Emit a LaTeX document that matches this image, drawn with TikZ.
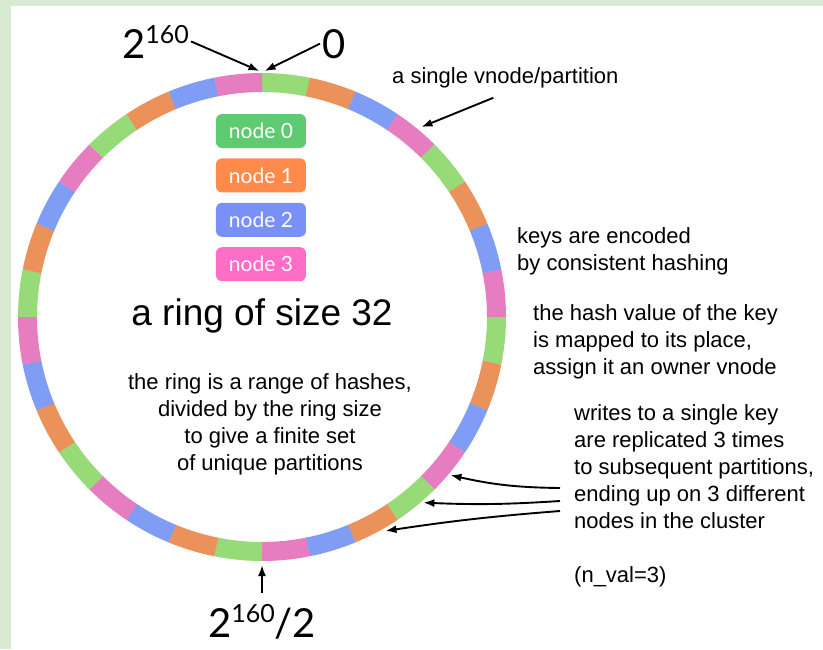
\documentclass[tikz,border=0pt]{standalone}
\usepackage{fontspec}
\setmainfont{Liberation Sans}
\newfontfamily\ringfont{Lato}
\usetikzlibrary{arrows.meta,positioning}
\definecolor{ringgreen}{RGB}{151,218,120}
\definecolor{ringorange}{RGB}{235,145,90}
\definecolor{ringblue}{RGB}{128,157,246}
\definecolor{ringpink}{RGB}{231,125,193}
\definecolor{keygreen}{RGB}{95,203,112}
\definecolor{keyorange}{RGB}{255,138,74}
\definecolor{keyblue}{RGB}{120,144,248}
\definecolor{keypink}{RGB}{255,110,198}
\definecolor{framegreen}{RGB}{217,234,211}

\begin{document}
\begin{tikzpicture}[x=1pt,y=1pt,>={Latex[length=11pt,width=8pt]},
    note/.style={font=\fontsize{22}{27}\selectfont,align=left,inner sep=0pt},
    legend/.style={rounded corners=6pt,minimum width=90pt,minimum height=34pt,inner sep=0pt,text=white,font=\ringfont\fontsize{21}{21}\selectfont},
    hashlabel/.style={font=\ringfont\fontsize{40}{40}\selectfont,inner sep=2pt},
    pointer/.style={->,line width=1.9pt}]
  % frame
  \fill[framegreen] (-262,317) rectangle (561,-332);
  \fill[white] (-251,311) rectangle (561,-332);
  \useasboundingbox (-262,317) rectangle (561,-332);
  % 32 partitions, clockwise from the top
  \foreach \k in {0,...,7}
    \foreach \col [count=\j from 0] in {ringgreen,ringorange,ringblue,ringpink}{
      \pgfmathsetmacro{\a}{90-45*\k-11.25*\j}
      \draw[line width=19pt,\col] (\a:234.5pt) arc[start angle=\a,delta angle=-11.3,radius=234.5pt];
    }
  % legend
  \node[legend,fill=keygreen] (n0) at (-1,186) {node 0};
  \node[legend,fill=keyorange,below=10pt of n0] (n1) {node 1};
  \node[legend,fill=keyblue,below=10pt of n1] (n2) {node 2};
  \node[legend,fill=keypink,below=10pt of n2] (n3) {node 3};
  \node[font=\fontsize{37}{37}\selectfont,anchor=base] (size) at (0,-8) {a ring of size 32};
  % multi-line notes: base = baseline of the last line
  \node[note,align=center,anchor=base] (range) at (8,-153) {the ring is a range of hashes,\\divided by the ring size\\to give a finite set\\of unique partitions};
  % hash space labels
  \node[hashlabel,anchor=base west] (top) at (-142,259) {2\raisebox{15pt}{\fontsize{25}{25}\selectfont 160}};
  \node[hashlabel,anchor=base west] (zero) at (58,259) {0};
  \node[hashlabel,anchor=base west] (half) at (-56,-320) {2\raisebox{15pt}{\fontsize{25}{25}\selectfont 160}/2};
  \coordinate (wrapL) at (90.6:246pt);
  \coordinate (wrapR) at (89.4:246pt);
  \coordinate (midpt) at (270:248pt);
  \draw[pointer] (top.east) -- (wrapL);
  \draw[pointer] (zero.west) -- (wrapR);
  \draw[pointer] ([yshift=9pt]half.north -| midpt) -- (midpt);
  % notes on the right
  \node[note,anchor=base west] (vnode) at (130,234) {a single vnode/partition};
  \coordinate (vpart) at (50:248pt);
  \draw[pointer] ([xshift=-12pt,yshift=-10pt]vnode.south) -- (vpart);
  \node[note,anchor=base west] (keys) at (255,47) {keys are encoded\\by consistent hashing};
  \node[note,anchor=base west] (place) at (271,-57) {the hash value of the key\\is mapped to its place,\\assign it an owner vnode};
  \node[note,anchor=base west] (writes) at (312,-265) {writes to a single key\\are replicated 3 times\\to subsequent partitions,\\ending up on 3 different\\nodes in the cluster\\[27pt](n\_val=3)};
  \coordinate (rep1) at (298,-171);
  \coordinate (rep2) at (298,-184);
  \coordinate (rep3) at (298,-194);
  \coordinate (part1) at (-40:246pt);
  \coordinate (part2) at (-49:246pt);
  \coordinate (part3) at (-60:247pt);
  \draw[pointer] (rep1) to[bend left=6] (part1);
  \draw[pointer] (rep2) to[bend left=3] (part2);
  \draw[pointer] (rep3) to[bend right=2] (part3);
\end{tikzpicture}
\end{document}
